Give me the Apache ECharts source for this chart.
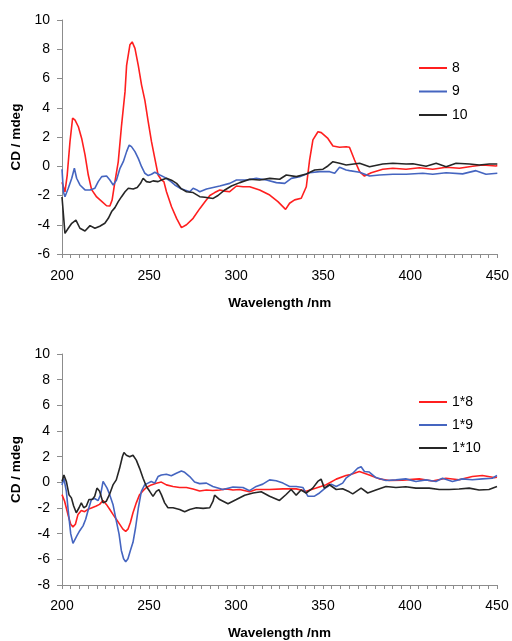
<!DOCTYPE html>
<html>
<head>
<meta charset="utf-8">
<script src="https://cdn.jsdelivr.net/npm/echarts@6/dist/echarts.min.js"></script>
<style>
  html, body { margin: 0; padding: 0; background: #fff; }
  #chart { width: 512px; height: 641px; }
</style>
</head>
<body>
<div id="chart"></div>
<script>
// CD spectra, [wavelength (nm), CD (mdeg)]
// Upper panel: compounds 8, 9, 10
const cd8 = [[200,-1.1],[201.7,-1.75],[203,-0.6],[204.6,1.7],[206.1,3.3],[207.5,3.15],[209.4,2.7],[211.3,1.9],[213.2,0.8],[215.1,-0.6],[217,-1.6],[219.9,-2.1],[222.8,-2.4],[225.6,-2.7],[227.5,-2.72],[228.8,-2.3],[230.4,-1.05],[232.3,0.3],[234.2,2.8],[236.2,5.1],[237.1,6.9],[239,8.3],[240.3,8.5],[241.9,8.06],[243.8,6.9],[245.7,5.55],[247.6,4.5],[249.5,3.05],[251.4,1.68],[253.3,0.54],[255.2,-0.6],[257.1,-0.94],[258.5,-1.05],[260,-1.74],[262.9,-2.77],[265.8,-3.56],[268.6,-4.2],[271.5,-4.0],[275.3,-3.56],[279.1,-2.9],[282,-2.45],[284.9,-2.0],[287.7,-1.8],[290.6,-1.62],[293.5,-1.7],[296.3,-1.74],[300.2,-1.35],[304,-1.4],[307.8,-1.4],[313.5,-1.62],[319.3,-1.97],[324,-2.42],[328.4,-2.95],[330.7,-2.53],[333.6,-2.3],[337.4,-2.19],[340.3,-1.4],[342.2,0.43],[344.1,1.8],[347,2.36],[348.9,2.3],[352.7,1.9],[355.6,1.38],[359.4,1.3],[363.2,1.33],[365.1,1.3],[368,0.43],[370.9,-0.37],[373.7,-0.67],[377.6,-0.44],[384.2,-0.21],[390,-0.14],[397.6,-0.21],[405.3,-0.1],[412.9,-0.21],[420.6,-0.07],[428.2,-0.14],[435.8,0.0],[441.6,0.09],[449.2,0.02],[450,0.05]];
const cd9 = [[200,-0.2],[200.8,-1.74],[201.7,-2.08],[203.6,-1.5],[205.6,-0.82],[207.1,-0.14],[208.4,-0.82],[210.3,-1.28],[213.2,-1.62],[216.1,-1.62],[218.9,-1.5],[220.8,-1.05],[222.8,-0.71],[225.6,-0.67],[227.5,-0.94],[229.4,-1.28],[231.3,-0.94],[233.3,-0.14],[235.2,0.31],[237.1,1.0],[238.6,1.45],[239.9,1.34],[241.9,1.0],[243.8,0.54],[245.7,-0.03],[247.6,-0.48],[249.5,-0.64],[251.4,-0.55],[253.3,-0.41],[256.2,-0.6],[259,-0.76],[261.9,-0.99],[264.8,-1.28],[267.7,-1.5],[270.5,-1.62],[273.4,-1.74],[275.3,-1.5],[277.2,-1.6],[279.1,-1.74],[283,-1.55],[286.8,-1.45],[290.6,-1.35],[296.3,-1.17],[300.2,-0.94],[305.9,-0.94],[311.6,-0.83],[317.4,-0.94],[323.1,-1.12],[327.9,-1.17],[331.7,-0.83],[336.5,-0.71],[342.2,-0.44],[348,-0.37],[353.7,-0.37],[356.6,-0.48],[359.4,-0.07],[363.2,-0.26],[365.1,-0.3],[370.9,-0.41],[376.6,-0.67],[382.3,-0.6],[390,-0.55],[397.6,-0.55],[407.2,-0.48],[412.9,-0.55],[420.6,-0.44],[430.1,-0.52],[437.7,-0.3],[443.5,-0.55],[450,-0.48]];
const cd10 = [[200,-2.1],[201.7,-4.59],[203.6,-4.24],[205.6,-3.9],[208,-3.68],[210.3,-4.24],[213.2,-4.43],[216.1,-4.06],[218.9,-4.24],[221.7,-4.1],[224.6,-3.9],[226.6,-3.56],[228.5,-3.1],[230.4,-2.83],[232.3,-2.42],[234.2,-2.08],[236.2,-1.74],[238.1,-1.5],[240.9,-1.55],[243.2,-1.45],[245.1,-1.17],[246.6,-0.82],[248.5,-1.05],[250.4,-1.1],[252.3,-1.0],[255.2,-1.05],[257.1,-0.94],[260,-0.82],[262.9,-0.95],[265.8,-1.17],[268.6,-1.55],[271.5,-1.74],[275.3,-1.8],[279.1,-2.08],[282,-2.12],[286.8,-2.2],[289.6,-2.0],[293.5,-1.62],[297.3,-1.35],[302.1,-1.12],[307.8,-0.89],[313.5,-0.94],[319.3,-0.83],[325,-0.89],[328.8,-0.6],[334.6,-0.71],[340.3,-0.53],[345.1,-0.26],[349.9,-0.2],[352.7,0.02],[355.6,0.31],[359.4,0.2],[363.2,0.09],[370.9,0.2],[376.6,-0.03],[384.2,0.15],[390,0.2],[397.6,0.15],[401.5,0.17],[409.1,0.0],[414.9,0.2],[420.6,-0.03],[426.3,0.2],[434,0.15],[439.7,0.09],[445.4,0.15],[450,0.15]];

// Lower panel: mixtures 1*8, 1*9, 1*10
const cd1x8 = [[200,-0.96],[201.5,-1.47],[203.4,-2.5],[205,-3.26],[206.3,-3.47],[207.7,-3.26],[209.2,-2.5],[211.1,-2.19],[213,-2.29],[214.9,-2.1],[216.9,-2.0],[219.7,-1.85],[221.6,-1.72],[223.6,-1.42],[225.5,-1.72],[227.4,-2.1],[229.3,-2.5],[231.2,-2.88],[233.1,-3.26],[235,-3.65],[236.6,-3.82],[237.9,-3.65],[239.3,-3.13],[240.8,-2.37],[242.7,-1.6],[244.6,-0.96],[246.6,-0.65],[248.5,-0.4],[251.3,-0.2],[254.2,-0.07],[257.1,0.02],[260,-0.2],[263.8,-0.32],[267.6,-0.4],[271.5,-0.4],[275.3,-0.52],[279.1,-0.68],[283,-0.6],[286.7,-0.64],[290.6,-0.6],[294.4,-0.51],[298.3,-0.6],[302.1,-0.56],[307.8,-0.74],[311.6,-0.56],[319.3,-0.56],[327,-0.51],[334.6,-0.51],[340.3,-0.69],[346.1,-0.45],[351.8,-0.19],[357.6,0.25],[363.2,0.53],[365.1,0.58],[370.9,0.84],[376.6,0.58],[382.3,0.27],[388.1,0.14],[395.7,0.17],[405.3,0.27],[412.9,0.1],[420.6,0.32],[428.2,0.2],[435.8,0.45],[441.6,0.53],[448.3,0.37],[450,0.4]];
const cd1x9 = [[200,-0.2],[201.1,0.3],[202.5,-0.7],[203.8,-2.5],[205,-4.0],[206.3,-4.75],[207.3,-4.67],[208.6,-4.16],[210.2,-3.77],[212.1,-3.39],[213.6,-2.88],[214.9,-2.24],[216.9,-1.34],[218.8,-1.26],[220.7,-1.42],[222.2,-0.96],[223.6,0.07],[224.7,0.12],[225.9,-0.45],[227.4,-0.96],[229.3,-1.72],[231.2,-3.0],[232.8,-4.03],[234.1,-5.31],[235.4,-5.95],[236.6,-6.2],[237.9,-5.95],[239.3,-5.31],[240.8,-4.67],[242.3,-3.52],[243.9,-1.98],[245.6,-0.7],[247.5,-0.2],[249.4,-0.06],[251.3,0.07],[253.3,-0.06],[255.2,0.45],[257.1,0.57],[260,0.63],[262.8,0.52],[265.7,0.7],[268.6,0.88],[270.5,0.78],[273.4,0.45],[276.2,0.02],[279.1,-0.1],[283,-0.06],[286.7,-0.32],[292.5,-0.56],[298.3,-0.37],[304,-0.4],[307.8,-0.65],[311.6,-0.32],[315.4,-0.14],[319.3,0.19],[323.1,0.12],[327,-0.06],[330.8,-0.32],[334.6,-0.32],[338.4,-0.4],[341.3,-1.08],[345.1,-1.08],[348,-0.83],[351.8,-0.4],[354.7,-0.14],[357.6,-0.32],[361.3,-0.06],[363.2,0.32],[367.1,0.71],[369.9,1.1],[371.9,1.22],[373.8,0.84],[376.6,0.8],[380.4,0.37],[386.2,0.14],[391.9,0.19],[397.6,0.27],[403.4,0.06],[409.1,0.19],[414.9,0.06],[418.7,0.32],[424.4,0.06],[430.1,0.27],[435.8,0.2],[441.6,0.27],[447.3,0.32],[450,0.53]];
const cd1x10 = [[200,0.07],[201.1,0.57],[202.5,0.07],[204,-0.96],[205.4,-1.21],[206.7,-1.85],[208.2,-2.37],[209.8,-1.98],[211.1,-1.6],[212.5,-1.98],[214,-1.85],[215.5,-1.34],[217.4,-1.34],[218.8,-1.09],[220.1,-0.45],[221.6,-0.7],[223.6,-1.6],[225.5,-1.47],[227.4,-0.91],[229.3,-0.2],[231.2,0.19],[233.1,1.09],[234.7,1.99],[235.6,2.32],[237,2.11],[238.9,1.99],[240.8,2.11],[242.7,1.73],[244.6,1.09],[246.6,0.32],[248.5,-0.32],[250.4,-0.7],[252.3,-1.09],[254.2,-0.7],[255.7,-0.57],[257.1,-0.96],[259,-1.6],[260.9,-1.98],[263.8,-1.98],[267.6,-2.11],[270.5,-2.29],[273.4,-2.11],[277.2,-1.98],[281.1,-2.03],[284.9,-1.98],[286.8,-1.47],[287.7,-1.0],[290.6,-1.34],[295.4,-1.67],[300.2,-1.34],[305,-1.0],[309.8,-0.83],[314.5,-0.74],[319.3,-1.08],[325,-1.41],[328.8,-0.95],[331.7,-0.56],[334.6,-1.0],[337.4,-0.6],[340.3,-0.83],[344.1,-0.45],[347,0.07],[348.9,0.25],[350.8,-0.45],[353.7,-0.19],[357.6,-0.56],[361.3,-0.5],[365.1,-0.74],[367.1,-0.9],[371.9,-0.45],[375.7,-0.83],[380.4,-0.6],[386.2,-0.32],[391.9,-0.4],[397.6,-0.35],[403.4,-0.45],[411,-0.45],[416.8,-0.56],[422.5,-0.56],[428.2,-0.52],[434,-0.45],[439.7,-0.6],[445.4,-0.56],[450,-0.32]];

const upperNames = ['8', '9', '10'];
const lowerNames = ['1*8', '1*9', '1*10'];
const wavelengthRange = [200, 450];
const upperCdRange = [-6, 10];
const lowerCdRange = [-8, 10];

const RED = '#ff1f1f', BLUE = '#4565c0', BLACK = '#262626';
const FONT = '"Liberation Sans", Arial, sans-serif';
const AXIS_GREY = '#8c8c8c';

function xAxisFor(gridIndex, labelMargin, nameGap) {
  return {
    type: 'value', gridIndex,
    min: wavelengthRange[0], max: wavelengthRange[1], interval: 50,
    name: 'Wavelength /nm', nameLocation: 'middle', nameGap,
    nameTextStyle: { fontFamily: FONT, fontSize: 13.5, fontWeight: 'bold', color: '#000' },
    axisLine: { onZero: false, lineStyle: { color: AXIS_GREY, width: 1 } },
    axisTick: { length: 4, lineStyle: { color: AXIS_GREY } },
    minorTick: { show: true, splitNumber: 10, length: 4, lineStyle: { color: AXIS_GREY } },
    axisLabel: { margin: labelMargin, fontFamily: FONT, fontSize: 14, color: '#000' },
    splitLine: { show: false }, minorSplitLine: { show: false }
  };
}
function yAxisFor(gridIndex, range) {
  return {
    type: 'value', gridIndex,
    min: range[0], max: range[1], interval: 2,
    name: 'CD / mdeg', nameLocation: 'middle', nameGap: 35,
    nameTextStyle: { fontFamily: FONT, fontSize: 13.5, fontWeight: 'bold', color: '#000' },
    axisLine: { show: true, onZero: false, lineStyle: { color: AXIS_GREY, width: 1 } },
    axisTick: { show: true, length: 5, lineStyle: { color: AXIS_GREY } },
    axisLabel: { margin: 12, fontFamily: FONT, fontSize: 14, color: '#000' },
    splitLine: { show: false }
  };
}
function lineSeries(name, data, color, idx) {
  return {
    type: 'line', name, data, xAxisIndex: idx, yAxisIndex: idx,
    symbol: 'none', smooth: false, silent: true, animation: false,
    lineStyle: { color, width: 1.6 }, itemStyle: { color }
  };
}
function legendFor(names, top, gap) {
  return {
    data: names, orient: 'vertical', left: 414, top,
    icon: 'rect', itemWidth: 28, itemHeight: 2, itemGap: gap,
    textStyle: { fontFamily: FONT, fontSize: 14, color: '#000' },
    selectedMode: false
  };
}

const chart = echarts.init(document.getElementById('chart'), null, { renderer: 'canvas' });
chart.setOption({
  backgroundColor: '#fff',
  animation: false,
  grid: [
    { left: 62, top: 20, width: 436, height: 234 },
    { left: 62, top: 354, width: 435, height: 234 }
  ],
  xAxis: [xAxisFor(0, 15, 42), xAxisFor(1, 14, 41)],
  yAxis: [yAxisFor(0, upperCdRange), yAxisFor(1, lowerCdRange)],
  legend: [legendFor(upperNames, 56, 9.5), legendFor(lowerNames, 390, 9)],
  series: [
    lineSeries(upperNames[0], cd8, RED, 0),
    lineSeries(upperNames[1], cd9, BLUE, 0),
    lineSeries(upperNames[2], cd10, BLACK, 0),
    lineSeries(lowerNames[0], cd1x8, RED, 1),
    lineSeries(lowerNames[1], cd1x9, BLUE, 1),
    lineSeries(lowerNames[2], cd1x10, BLACK, 1)
  ]
});
</script>
</body>
</html>
